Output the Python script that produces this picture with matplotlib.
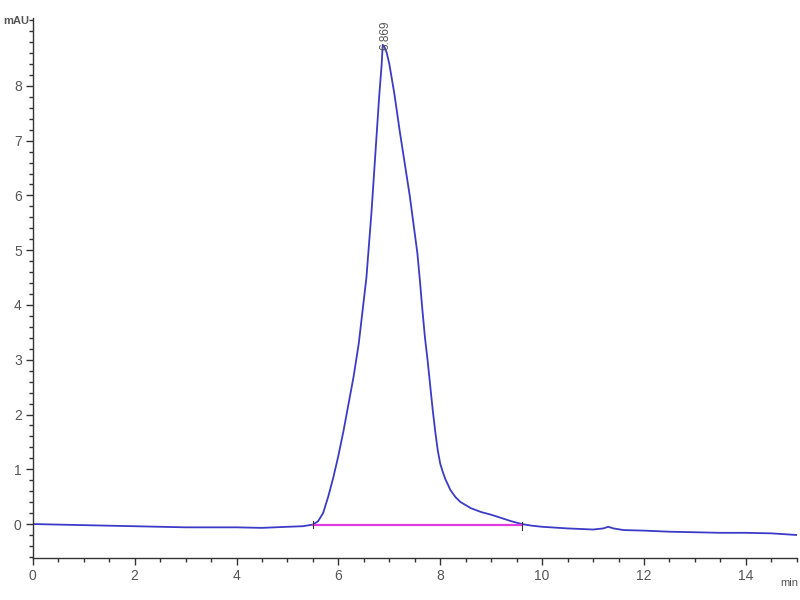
import numpy as np
import matplotlib
matplotlib.use("Agg")
import matplotlib.pyplot as plt
from matplotlib.ticker import MultipleLocator

# -- Chromatogram trace (min, mAU)
time_min = [0.0, 0.5, 1.0, 1.5, 2.0, 2.5, 3.0, 3.5, 4.0, 4.5, 5.0, 5.3, 5.5,
            5.6, 5.7, 5.8, 5.9, 6.0, 6.1, 6.2, 6.3, 6.4, 6.5, 6.55, 6.6, 6.65,
            6.7, 6.75, 6.8, 6.85, 6.87, 6.9, 6.95, 7.0, 7.1, 7.2, 7.3, 7.4, 7.5,
            7.55, 7.6, 7.65, 7.7, 7.75, 7.8, 7.85, 7.9, 7.95, 8.0, 8.05, 8.1,
            8.2, 8.3, 8.4, 8.6, 8.8, 9.0, 9.2, 9.4, 9.6, 9.8, 10.0, 10.5,
            11.0, 11.2, 11.3, 11.4, 11.6, 12.0, 12.5, 13.0, 13.5, 14.0, 14.5,
            15.0]
signal_mau = [0.0, -0.01, -0.02, -0.03, -0.04, -0.05, -0.06, -0.06, -0.06,
              -0.07, -0.05, -0.04, -0.01,
              0.05, 0.2, 0.5, 0.85, 1.25, 1.7, 2.2, 2.7, 3.3, 4.1, 4.5, 5.1,
              5.7, 6.4, 7.1, 7.8, 8.4, 8.75, 8.72, 8.6, 8.4, 7.85, 7.2, 6.6,
              6.0, 5.3, 4.95, 4.45, 3.9, 3.4, 3.0, 2.55, 2.1, 1.7, 1.35, 1.1,
              0.95, 0.82, 0.62, 0.49, 0.4, 0.29, 0.22, 0.17, 0.11, 0.05, 0.0,
              -0.03, -0.05, -0.08, -0.1, -0.08, -0.05, -0.08, -0.11, -0.12,
              -0.14, -0.15, -0.16, -0.16, -0.17, -0.2]

# -- Integration baseline and peak label
base_start, base_end, base_level = 5.5, 9.6, -0.02
peak_rt, peak_height = 6.869, 8.75

plt.rcParams["font.family"] = ["Liberation Sans", "DejaVu Sans"]

fig = plt.figure(figsize=(8, 6), dpi=100)
ax = fig.add_axes([0.041, 0.07, 0.955, 0.9])

ax.plot(time_min, signal_mau, color="#3b3bc8", linewidth=1.3)
ax.plot([base_start, base_end], [base_level, base_level], color="#e03ce0", linewidth=1.6)
ax.plot([base_start, base_start], [base_level - 0.05, base_level + 0.08], color="#333333", linewidth=0.8)
ax.plot([base_end, base_end], [base_level - 0.08, base_level + 0.05], color="#333333", linewidth=0.8)

ax.text(peak_rt + 0.05, peak_height - 0.1, f"{peak_rt:.3f}", rotation=90,
        ha="center", va="bottom", fontsize=8.5, color="#555555")

ax.set_xlim(0, 15)
ax.set_ylim(-0.62, 9.24)

ax.xaxis.set_major_locator(MultipleLocator(2))
ax.xaxis.set_minor_locator(MultipleLocator(0.5))
ax.yaxis.set_major_locator(MultipleLocator(1))
ax.yaxis.set_minor_locator(MultipleLocator(0.2))
ax.set_yticks(range(0, 9))

for side in ["top", "right"]:
    ax.spines[side].set_visible(False)
for side in ["left", "bottom"]:
    ax.spines[side].set_color("#333333")
    ax.spines[side].set_linewidth(1.0)

ax.tick_params(which="major", length=5, width=1, color="#333333",
               labelsize=10, labelcolor="#555555", pad=3)
ax.tick_params(which="minor", length=3, width=1, color="#333333")

fig.text(0.004, 0.965, "mAU", fontsize=8, color="#555555", ha="left",
         va="center", fontweight="bold")
fig.text(0.998, 0.028, "min", fontsize=8, color="#555555", ha="right", va="center")

fig.savefig("out.png", dpi=100)
